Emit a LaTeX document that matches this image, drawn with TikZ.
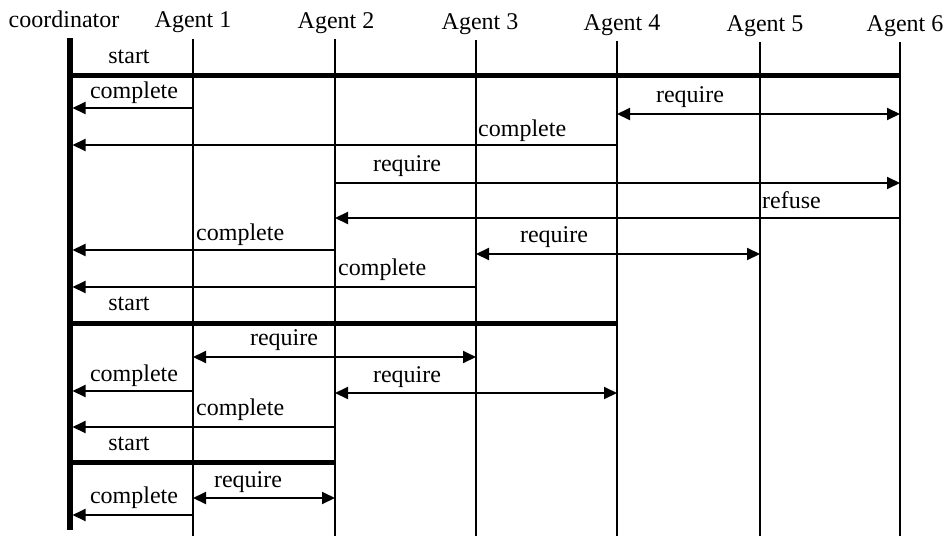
\documentclass[tikz,border=0pt]{standalone}
\usepackage{fontspec}
\setmainfont{Liberation Serif}
\usetikzlibrary{arrows.meta}

\tikzset{
  txt/.style={font=\fontsize{24}{28}\selectfont, inner sep=0pt},
  head/.style={txt, anchor=base},
  lbl/.style={txt, anchor=base},
  lblw/.style={txt, anchor=base west},
  coordline/.style={line width=5.5pt},
  agentline/.style={line width=2.5pt},
  startbar/.style={line width=5pt},
  tip/.tip={Triangle[length=13pt, width=12pt]},
  msg/.style={line width=2pt, -tip},
  tomgr/.style={msg, shorten >=2.5pt},
  both/.style={line width=2pt, tip-tip}
}

\begin{document}
\begin{tikzpicture}[x=1pt, y=-1pt]
\useasboundingbox (0,0) rectangle (950,536);

% participants
\node[head] (h0) at (64,27)  {coordinator};
\node[head] (h1) at (193,27) {Agent 1};
\node[head] (h2) at (336,28) {Agent 2};
\node[head] (h3) at (480,29) {Agent 3};
\node[head] (h4) at (622,30) {Agent 4};
\node[head] (h5) at (765,31) {Agent 5};
\node[head] (h6) at (905,31) {Agent 6};

% lifelines
\coordinate (t0) at (70,38);  \coordinate (b0) at (70,530);
\coordinate (t1) at (193,39); \coordinate (b1) at (193,536);
\coordinate (t2) at (335,39); \coordinate (b2) at (335,536);
\coordinate (t3) at (476,40); \coordinate (b3) at (476,536);
\coordinate (t4) at (617,41); \coordinate (b4) at (617,536);
\coordinate (t5) at (760,42); \coordinate (b5) at (760,536);
\coordinate (t6) at (900,42); \coordinate (b6) at (900,536);

\draw[coordline] (t0) -- (b0);
\foreach \i in {1,...,6} \draw[agentline] (t\i) -- (b\i);

% round 1
\draw[startbar] (t0 |- 0,75) -- (t6 |- 0,75);
\node[lbl] at (129,63) {start};

\draw[tomgr] (t1 |- 0,108) -- (t0 |- 0,108);
\node[lbl] at (134,98) {complete};

\draw[both] (t4 |- 0,114) -- (t6 |- 0,114);
\node[lbl] at (690,102) {require};

\draw[tomgr] (t4 |- 0,145) -- (t0 |- 0,145);
\node[lblw] at (478,136) {complete};

\draw[msg] (t2 |- 0,183) -- (t6 |- 0,183);
\node[lbl] at (407,171) {require};

\draw[msg] (t6 |- 0,218) -- (t2 |- 0,218);
\node[lblw] at (762,208) {refuse};

\draw[tomgr] (t2 |- 0,250) -- (t0 |- 0,250);
\node[lblw] at (196,240) {complete};

\draw[both] (t3 |- 0,254) -- (t5 |- 0,254);
\node[lbl] at (554,242) {require};

\draw[tomgr] (t3 |- 0,287) -- (t0 |- 0,287);
\node[lblw] at (338,275) {complete};

% round 2
\draw[startbar] (t0 |- 0,323) -- (t4 |- 0,323);
\node[lbl] at (129,310) {start};

\draw[both] (t1 |- 0,357) -- (t3 |- 0,357);
\node[lbl] at (284,345) {require};

\draw[tomgr] (t1 |- 0,391) -- (t0 |- 0,391);
\node[lbl] at (134,381) {complete};

\draw[both] (t2 |- 0,393) -- (t4 |- 0,393);
\node[lbl] at (407,382) {require};

\draw[tomgr] (t2 |- 0,427) -- (t0 |- 0,427);
\node[lblw] at (196,415) {complete};

% round 3
\draw[startbar] (t0 |- 0,462) -- (t2 |- 0,462);
\node[lbl] at (129,450) {start};

\draw[both] (t1 |- 0,498) -- (t2 |- 0,498);
\node[lbl] at (248,487) {require};

\draw[tomgr] (t1 |- 0,515) -- (t0 |- 0,515);
\node[lbl] at (134,503) {complete};
\end{tikzpicture}
\end{document}
